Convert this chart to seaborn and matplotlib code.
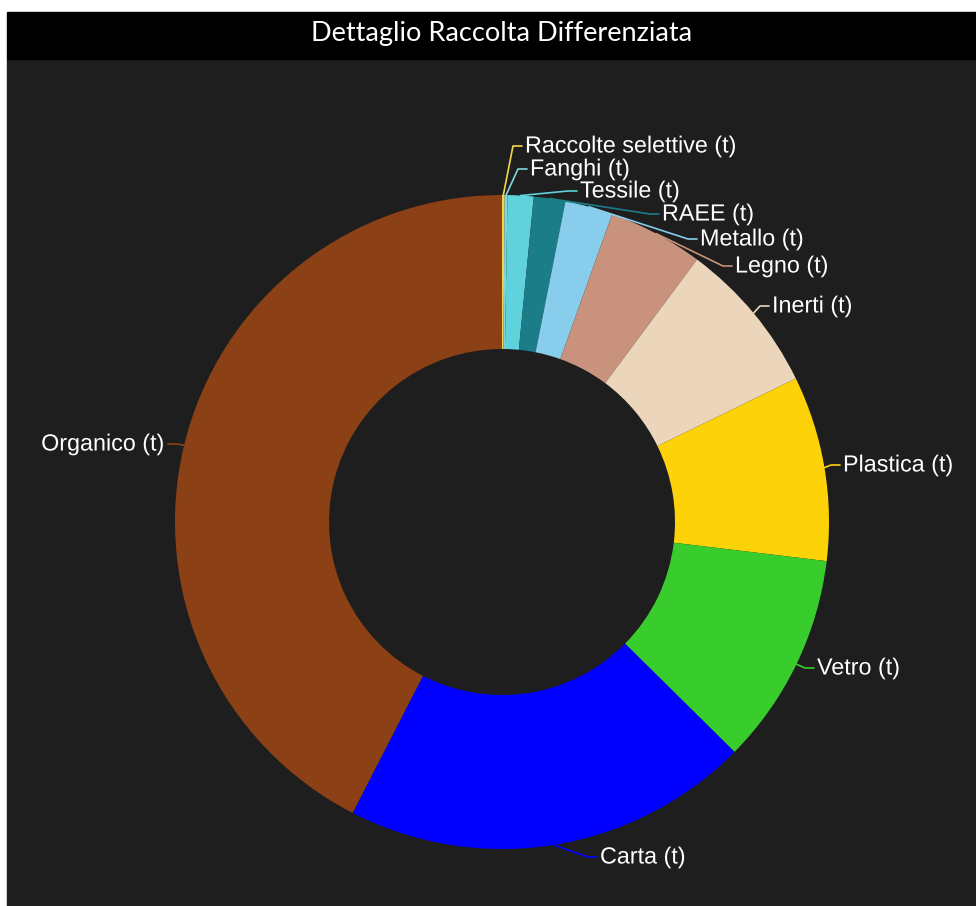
import numpy as np
import matplotlib
matplotlib.use("Agg")
import matplotlib.pyplot as plt
import matplotlib.patheffects as pe
import seaborn as sns

sns.set_theme(style="dark")
plt.rcParams['font.family'] = ['Liberation Sans', 'DejaVu Sans']

## dati (t), ordine orario da ore 12
categorie = ['Raccolte selettive (t)', 'Fanghi (t)', 'Tessile (t)', 'RAEE (t)',
             'Metallo (t)', 'Legno (t)', 'Inerti (t)', 'Plastica (t)',
             'Vetro (t)', 'Carta (t)', 'Organico (t)']
valori = [13, 14, 128, 156, 236, 470, 760, 914, 1050, 2014, 4245]
colori = ['#F2D54B', '#7FD8E0', '#5FD2DC', '#1B7D88', '#88CDEB', '#C8927C',
          '#EBD6BB', '#FED209', '#38CD2C', '#0000FF', '#8B4115']

# posizione delle etichette (pixel, origine in alto a sinistra)
etich_x = [525, 530, 580, 662, 700, 735, 772, 843, 817, 600, 165]
etich_y = [146, 169, 191, 214, 239, 266, 306, 465, 668, 857, 444]

W, H = 976, 906
cx, cy, R, R_in = 502, 522, 327, 173

fig = plt.figure(figsize=(W / 100, H / 100), dpi=100, facecolor='white')
ax = fig.add_axes([0, 0, 1, 1])

# sfondo e barra titolo
ax.add_patch(plt.Rectangle((7, 0), W - 7, H - 59, color='#1e1e1e', zorder=0))
ax.add_patch(plt.Rectangle((7, H - 59), W - 7, 47, color='black', zorder=0))
ax.text(502, H - 33, 'Dettaglio Raccolta Differenziata', color='white',
        fontsize=19.5, ha='center', va='center', family=['Lato', 'DejaVu Sans'])

wedges, _ = ax.pie(valori, colors=colori, startangle=90, counterclock=False,
                   center=(cx, H - cy), radius=R,
                   wedgeprops=dict(width=R - R_in, linewidth=0), frame=True)
ax.set_xlim(0, W)
ax.set_ylim(0, H)
ax.axis('off')

ombra = [pe.withStroke(linewidth=2.5, foreground='#1e1e1e')]
for w, nome, col, lx, ly in zip(wedges, categorie, colori, etich_x, etich_y):
    ang = np.deg2rad((w.theta1 + w.theta2) / 2)
    px, py = cx + R * np.cos(ang), (H - cy) + R * np.sin(ang)
    ty = H - ly
    if lx < cx:
        xs = [px, lx + 12, lx + 3]
        ha = 'right'
    else:
        xs = [px, lx - 12, lx - 3]
        ha = 'left'
    ax.plot(xs, [py, ty, ty], color=col, lw=1.2, zorder=3)
    ax.text(lx, ty, nome, color='white', fontsize=16.8, ha=ha, va='center',
            path_effects=ombra, zorder=4)

fig.savefig('out.png', dpi=100, facecolor='white')
